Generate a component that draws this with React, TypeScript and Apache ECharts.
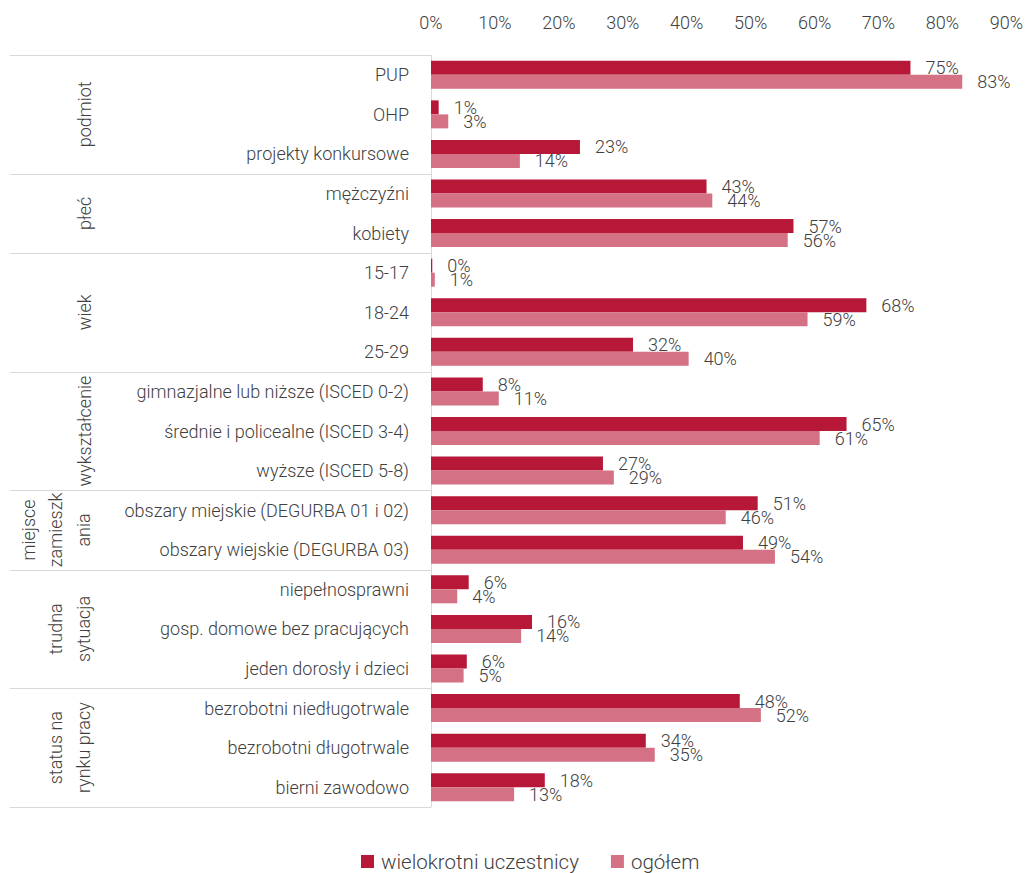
import React, { useEffect, useRef } from "react";
import * as echarts from "echarts";

const categories = [
  "PUP",
  "OHP",
  "projekty konkursowe",
  "mężczyźni",
  "kobiety",
  "15-17",
  "18-24",
  "25-29",
  "gimnazjalne lub niższe (ISCED 0-2)",
  "średnie i policealne (ISCED 3-4)",
  "wyższe (ISCED 5-8)",
  "obszary miejskie (DEGURBA 01 i 02)",
  "obszary wiejskie (DEGURBA 03)",
  "niepełnosprawni",
  "gosp. domowe bez pracujących",
  "jeden dorosły i dzieci",
  "bezrobotni niedługotrwale",
  "bezrobotni długotrwale",
  "bierni zawodowo",
];

const seriesNames = ["wielokrotni uczestnicy", "ogółem"];

const multiValues = [75, 1.2, 23.3, 43.1, 56.7, 0.2, 68.1, 31.6, 8.1, 65, 26.9, 51.1, 48.8, 5.9, 15.8, 5.6, 48.3, 33.6, 17.8];
const totalValues = [83.1, 2.7, 13.9, 44, 55.8, 0.6, 58.9, 40.3, 10.6, 60.8, 28.6, 46.1, 53.8, 4.1, 14.1, 5.1, 51.6, 35, 13];

const groupLabels = [
  ["podmiot"],
  ["płeć"],
  ["wiek"],
  ["wykształcenie"],
  ["miejsce", "zamieszk", "ania"],
  ["trudna", "sytuacja"],
  ["status na", "rynku pracy"],
];
const groupSizes = [3, 2, 3, 3, 2, 3, 3];

const FONT = "Roboto";
const WEIGHT = 300;
const TEXT = "#404040";
const LINE = "#d9d9d9";
const C1 = "#b71838";
const C2 = "#d47184";

export default function App() {
  const ref = useRef<HTMLDivElement>(null);
  useEffect(() => {
    const chart = echarts.init(ref.current!, undefined, { renderer: "svg" });
    const label = {
      show: true,
      position: "right",
      distance: 15,
      fontFamily: FONT,
      fontWeight: WEIGHT,
      fontSize: 18,
      color: TEXT,
      formatter: (p: any) => Math.round(p.value) + "%",
    };
    chart.setOption({
      animation: false,
      textStyle: { fontFamily: FONT, fontWeight: WEIGHT },
      grid: { left: 431, right: 19, top: 55, bottom: 66 },
      xAxis: {
        type: "value",
        position: "top",
        min: 0,
        max: 90,
        interval: 10,
        axisLine: { show: false },
        axisTick: { show: false },
        splitLine: { show: false },
        axisLabel: { formatter: "{value}%", fontFamily: FONT, fontWeight: WEIGHT, fontSize: 18, color: TEXT, margin: 24 },
      },
      yAxis: {
        type: "category",
        inverse: true,
        data: categories,
        axisLine: { show: true, lineStyle: { color: LINE, width: 1 } },
        axisTick: { show: false },
        axisLabel: { fontFamily: FONT, fontWeight: WEIGHT, fontSize: 18, color: TEXT, margin: 22 },
      },
      legend: {
        top: 851,
        left: 361,
        padding: 0,
        icon: "rect",
        itemWidth: 13,
        itemHeight: 13,
        itemGap: 32,
        textStyle: { fontFamily: FONT, fontWeight: WEIGHT, fontSize: 20.5, color: TEXT, padding: [0, 0, 0, 2] },
        data: seriesNames,
      },
      series: [
        {
          name: seriesNames[0],
          type: "bar",
          data: multiValues,
          barWidth: 14,
          barGap: "0%",
          itemStyle: { color: C1 },
          label,
        },
        {
          name: seriesNames[1],
          type: "bar",
          data: totalValues,
          barWidth: 14,
          barGap: "0%",
          itemStyle: { color: C2 },
          label,
        },
      ],
    });

    const yc0 = chart.convertToPixel({ yAxisIndex: 0 }, 0) as number;
    const yc1 = chart.convertToPixel({ yAxisIndex: 0 }, 1) as number;
    const band = yc1 - yc0;
    const xAxisPx = chart.convertToPixel({ xAxisIndex: 0 }, 0) as number;
    const boundary = (i: number) => yc0 - band / 2 + i * band;
    const elements: any[] = [];
    let start = 0;
    const bounds = [0];
    groupSizes.forEach((s) => {
      start += s;
      bounds.push(start);
    });
    bounds.forEach((b) => {
      const y = Math.round(boundary(b)) + 0.5;
      elements.push({
        type: "line",
        shape: { x1: 10, y1: y, x2: xAxisPx, y2: y },
        style: { stroke: LINE, lineWidth: 1 },
        silent: true,
      });
    });
    groupLabels.forEach((lines, gi) => {
      const yMid = (boundary(bounds[gi]) + boundary(bounds[gi + 1])) / 2;
      const n = lines.length;
      lines.forEach((t, li) => {
        const x = n === 1 ? 84 : 83 - (n - 1 - li) * 27.5;
        elements.push({
          type: "text",
          x,
          y: yMid,
          rotation: Math.PI / 2,
          style: {
            text: t,
            fontFamily: FONT,
            fontWeight: WEIGHT,
            fontSize: 18,
            fill: TEXT,
            align: "center",
            verticalAlign: "middle",
          },
          silent: true,
        });
      });
    });
    chart.setOption({ graphic: elements });
    return () => chart.dispose();
  }, []);
  return (
    <div
      ref={ref}
      style={{ position: "absolute", left: 0, top: 0, width: 1026, height: 873 }}
    />
  );
}
